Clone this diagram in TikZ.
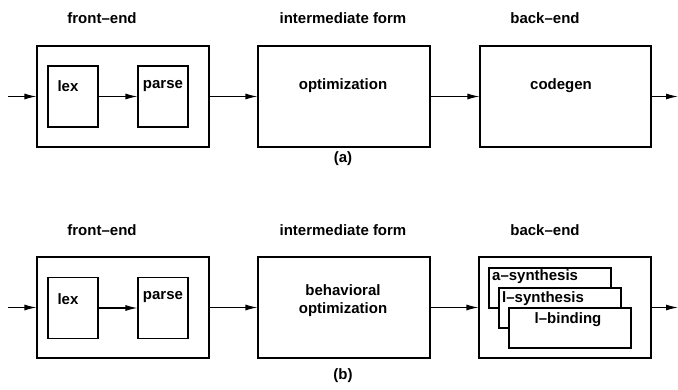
\documentclass[tikz,border=0pt]{standalone}
\usepackage{fontspec}
\setmainfont{Liberation Sans}
\usetikzlibrary{arrows.meta}
\begin{document}
\begin{tikzpicture}[x=1pt,y=-1pt,
  box/.style={draw, line width=1.1pt, fill=white, inner sep=0pt},
  txt/.style={font=\fontsize{15}{18}\selectfont\bfseries, inner sep=0pt, align=center},
  arr/.style={line width=1.1pt, -{Latex[length=12pt,width=6pt]}}]
\useasboundingbox (0,0) rectangle (678,389);

% ---------- (a) ----------
\node[txt] (hfe1) at (102,18) {front--end};
\node[txt] (hif1) at (343,18) {intermediate form};
\node[txt] (hbe1) at (545,18) {back--end};

\node[box, minimum width=172pt, minimum height=101pt] (fe1) at (123,96.5) {};
\node[box, minimum width=50pt, minimum height=61pt] (lex1) at (73,96.5) {};
\node[box, minimum width=50pt, minimum height=61pt] (parse1) at (163,96.5) {};
\node[box, minimum width=172pt, minimum height=101pt] (opt1) at (344,96.5) {};
\node[box, minimum width=171pt, minimum height=101pt] (cg1) at (565.5,96.5) {};

\node[txt] (tlex1) at (68,86) {lex};
\node[txt] (tparse1) at (163,86) {parse};
\node[txt] (topt1) at (343,86) {optimization};
\node[txt] (tcg1) at (561,86) {codegen};
\node[txt] (capa) at (343,159) {(a)};

\coordinate (in1) at (8,96.5);
\coordinate (out1) at (678,96.5);
\draw[arr] (in1) -- (fe1.west);
\draw[arr] (lex1.east) -- (parse1.west);
\draw[arr] (fe1.east) -- (opt1.west);
\draw[arr] (opt1.east) -- (cg1.west);
\draw[arr] (cg1.east) -- (out1);

% ---------- (b) ----------
\node[txt] (hfe2) at (102,230) {front--end};
\node[txt] (hif2) at (343,230) {intermediate form};
\node[txt] (hbe2) at (545,230) {back--end};

\node[box, minimum width=172pt, minimum height=101pt] (fe2) at (123,307.5) {};
\node[box, minimum width=50pt, minimum height=61pt] (lex2) at (73,308) {};
\node[box, minimum width=50pt, minimum height=61pt] (parse2) at (163,308) {};
\node[box, minimum width=172pt, minimum height=101pt] (opt2) at (344,307.5) {};
\node[box, minimum width=172pt, minimum height=101pt] (be2) at (565,307.5) {};

\node[box, minimum width=122pt, minimum height=40pt] (as2) at (550,288) {};
\node[box, minimum width=122pt, minimum height=40pt] (ls2) at (560,308) {};
\node[box, minimum width=122pt, minimum height=40pt] (lb2) at (570,328) {};

\node[txt, anchor=west] (tas2) at (492,277) {a--synthesis};
\node[txt, anchor=west] (tls2) at (502,299) {l--synthesis};
\node[txt] (tlb2) at (568,320) {l--binding};

\node[txt] (tlex2) at (68,299) {lex};
\node[txt] (tparse2) at (163,297) {parse};
\node[txt] (topt2) at (343,301) {behavioral\\optimization};
\node[txt] (capb) at (343,376) {(b)};

\coordinate (in2) at (8,307.5);
\coordinate (out2) at (678,307.5);
\draw[arr] (in2) -- (fe2.west);
\draw[arr] (lex2.east) -- (parse2.west);
\draw[arr] (fe2.east) -- (opt2.west);
\draw[arr] (opt2.east) -- (be2.west);
\draw[arr] (be2.east) -- (out2);
\end{tikzpicture}
\end{document}
